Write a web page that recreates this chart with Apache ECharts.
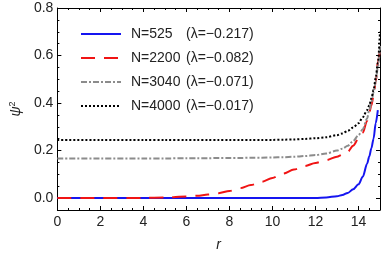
<!DOCTYPE html>
<html>
<head>
<meta charset="utf-8">
<script src="https://cdn.jsdelivr.net/npm/echarts@6/dist/echarts.min.js"></script>
<style>html,body{margin:0;padding:0;background:#fff}#c{width:382px;height:257px}</style>
</head>
<body>
<div id="c"></div>
<script>
const r = [0, 2, 4, 5, 6, 6.5, 7, 7.5, 8, 8.5, 9, 9.5, 10, 10.5, 11, 11.5, 12, 12.5, 13, 13.25, 13.5, 13.75, 14, 14.2, 14.4, 14.5, 14.6, 14.7, 14.8, 14.9, 15];
const psi525  = [0, 0, 0, 0, 0, 0, 0, 0, 0, 0, 0, 0, 0, 0, 0, 0.0003, 0.001, 0.003, 0.008, 0.013, 0.022, 0.037, 0.058, 0.09, 0.145, 0.175, 0.21, 0.25, 0.315, 0.37, null];
const psi2200 = [0, 0.0002, 0.0008, 0.003, 0.007, 0.01, 0.015, 0.021, 0.03, 0.042, 0.055, 0.069, 0.085, 0.103, 0.12, 0.135, 0.148, 0.16, 0.174, 0.183, 0.195, 0.22, 0.25, 0.275, 0.325, 0.36, 0.39, 0.43, 0.49, 0.57, 0.63];
const psi3040 = [0.167, 0.167, 0.167, 0.167, 0.168, 0.168, 0.168, 0.169, 0.169, 0.169, 0.170, 0.170, 0.171, 0.172, 0.174, 0.177, 0.181, 0.188, 0.2, 0.208, 0.22, 0.24, 0.265, 0.29, 0.335, 0.37, 0.405, 0.445, 0.49, 0.55, 0.64];
const psi4000 = [0.245, 0.245, 0.245, 0.245, 0.245, 0.245, 0.245, 0.245, 0.245, 0.245, 0.245, 0.245, 0.245, 0.246, 0.247, 0.249, 0.252, 0.256, 0.265, 0.272, 0.283, 0.297, 0.315, 0.34, 0.37, 0.39, 0.42, 0.455, 0.505, 0.57, 0.70];
const names = ['N=525', 'N=2200', 'N=3040', 'N=4000'];
const lambdas = ['(λ=−0.217)', '(λ=−0.082)', '(λ=−0.071)', '(λ=−0.017)'];
const xMajor = [0, 2, 4, 6, 8, 10, 12, 14];
const xMinor = [0.5, 1, 1.5, 2.5, 3, 3.5, 4.5, 5, 5.5, 6.5, 7, 7.5, 8.5, 9, 9.5, 10.5, 11, 11.5, 12.5, 13, 13.5, 14.5];
const yMajor = [0, 0.2, 0.4, 0.6, 0.8];
const yMinor = [0.05, 0.1, 0.15, 0.25, 0.3, 0.35, 0.45, 0.5, 0.55, 0.65, 0.7, 0.75];

const font = 'Liberation Sans, Arial, sans-serif';
function pairs(vals) { return r.map((x, i) => [x, vals[i]]); }

function xAx(pos, ticks, len, labels, line) {
  return {
    type: 'value', position: pos, min: 0, max: 15,
    axisLine: { show: line, onZero: false, lineStyle: { color: '#000', width: 1 } },
    axisTick: { show: true, inside: true, length: len, customValues: ticks, lineStyle: { color: '#000', width: 1 } },
    axisLabel: labels ? { show: true, customValues: xMajor, fontSize: 14, fontFamily: font, color: '#222', margin: 5 } : { show: false },
    splitLine: { show: false }
  };
}
function yAx(pos, ticks, len, labels, line) {
  return {
    type: 'value', position: pos, min: -0.05, max: 0.8,
    axisLine: { show: line, onZero: false, lineStyle: { color: '#000', width: 1 } },
    axisTick: { show: true, inside: true, length: len, customValues: ticks, lineStyle: { color: '#000', width: 1 } },
    axisLabel: labels ? { show: true, customValues: yMajor, fontSize: 14, fontFamily: font, color: '#222', margin: 4, formatter: v => v.toFixed(1) } : { show: false },
    splitLine: { show: false }
  };
}

const xs = [xAx('bottom', xMajor, 4, true, true), xAx('bottom', xMinor, 2, false, false), xAx('top', xMajor, 4, false, true), xAx('top', xMinor, 2, false, false)];
const ys = [yAx('left', yMajor, 4, true, true), yAx('left', yMinor, 2, false, false), yAx('right', yMajor, 4, false, true), yAx('right', yMinor, 2, false, false)];
xs[0].name = 'r';
xs[0].nameLocation = 'middle';
xs[0].nameGap = 28;
xs[0].nameTextStyle = { fontSize: 14, fontFamily: font, fontStyle: 'italic', color: '#222' };
ys[0].name = '{i|ψ}{s|2}';
ys[0].nameLocation = 'middle';
ys[0].nameGap = 30;
ys[0].nameTextStyle = { fontSize: 14, fontFamily: font, color: '#222', rich: { i: { fontSize: 14, fontStyle: 'italic', fontFamily: font, color: '#222' }, s: { fontSize: 9, fontFamily: font, color: '#222', padding: [0, 0, 7, 0] } } };

const styles = [
  { color: '#1515f0', type: 'solid' },
  { color: '#f01414', type: [14, 9] },
  { color: '#8c8c8c', type: [6, 2, 2, 2] },
  { color: '#000000', type: [2, 2] }
];
const vals = [psi525, psi2200, psi3040, psi4000];

const series = names.map((n, i) => ({
  name: n, type: 'line', data: pairs(vals[i]), xAxisIndex: 0, yAxisIndex: 0,
  showSymbol: false, symbol: 'none', smooth: 0.3, smoothMonotone: 'x',
  lineStyle: { color: styles[i].color, width: 2, type: styles[i].type },
  itemStyle: { color: styles[i].color }
}));

const chart = echarts.init(document.getElementById('c'), null, { renderer: 'canvas' });
chart.setOption({
  animation: false,
  backgroundColor: '#fff',
  grid: { left: 45.5, right: 2, top: 8, bottom: 42, containLabel: false },
  xAxis: xs,
  yAxis: ys,
  legend: {
    data: names, orient: 'vertical', left: 80, top: 27, padding: 0,
    itemWidth: 40, itemHeight: 14, itemGap: 10,
    itemStyle: { opacity: 0 },
    formatter: name => '{a|' + name + '}{b|' + lambdas[names.indexOf(name)] + '}',
    textStyle: {
      fontSize: 14, fontFamily: font, color: '#222',
      rich: { a: { width: 55, padding: [0, 0, 0, 5], fontSize: 14, fontFamily: font, color: '#222' }, b: { fontSize: 14, fontFamily: font, color: '#222' } }
    }
  },
  series: series
});
</script>
</body>
</html>
